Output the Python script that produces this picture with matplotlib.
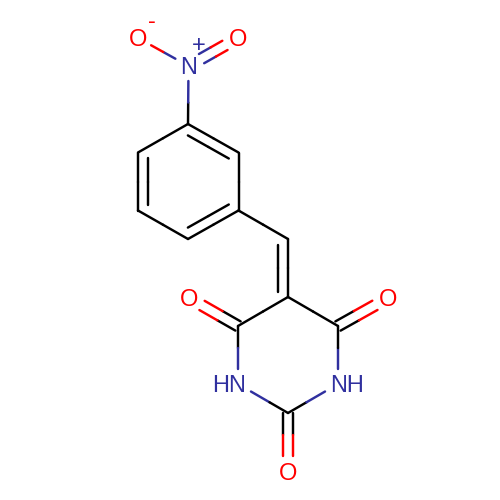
import matplotlib
matplotlib.use("Agg")
import matplotlib.pyplot as plt
import numpy as np

# Atom table (pixel-like drawing units)
atom_names = ["C1", "C2", "C3", "C4", "C5", "C6", "N7", "O8", "O9", "C10", "C11",
              "C12", "N13", "C14", "N15", "C16", "O17", "O18", "O19"]
atom_x = [188, 238.5, 238.5, 188, 138, 138, 188.5, 138, 238, 288, 288,
          238, 238, 288, 338, 338, 189, 288, 388]
atom_y = [124, 152.5, 210.5, 239, 210.5, 152.5, 66, 38, 38, 239, 297,
          326, 384, 413, 384, 326, 298, 471, 298]
atom_element = ["C", "C", "C", "C", "C", "C", "N", "O", "O", "C", "C",
                "C", "N", "C", "N", "C", "O", "O", "O"]
atom_text = {6: "N", 7: "O", 8: "O", 12: "HN", 14: "NH", 16: "O", 17: "O", 18: "O"}
atom_charge = {6: "+", 7: "-"}

single_bonds = [(1, 2), (3, 4), (5, 0), (0, 6), (6, 7), (2, 9), (10, 11), (11, 12),
                (12, 13), (13, 14), (14, 15), (15, 10)]
ring_double_bonds = [(0, 1, 4), (2, 3, 5), (4, 5, 1), (9, 10, 2)]
symmetric_double_bonds = [(6, 8), (11, 16), (13, 17), (15, 18)]

COLORS = {"C": "#000000", "N": "#30309F", "O": "#FF0000"}
LW = 1.75
TRIM = 15.0
SIDE_OFFSET = 10.0
SIDE_SHORTEN = 5.5
SYM_OFFSET = 5.3

xy = np.column_stack([atom_x, atom_y]).astype(float)

fig = plt.figure(figsize=(5, 5), dpi=100)
ax = fig.add_axes([0, 0, 1, 1])
ax.set_xlim(0, 500)
ax.set_ylim(500, 0)
ax.axis("off")


def trimmed(a, b):
    p, q = xy[a].copy(), xy[b].copy()
    u = (q - p) / np.linalg.norm(q - p)
    if a in atom_text:
        p = p + u * TRIM
    if b in atom_text:
        q = q - u * TRIM
    return p, q


def draw_split(p, q, a, b):
    m = (p + q) / 2
    for s, e, idx in ((p, m, a), (m, q, b)):
        ax.plot([s[0], e[0]], [s[1], e[1]], color=COLORS[atom_element[idx]],
                lw=LW, solid_capstyle="round", zorder=2)


for a, b in single_bonds:
    p, q = trimmed(a, b)
    draw_split(p, q, a, b)

for a, b, ref in ring_double_bonds:
    p, q = trimmed(a, b)
    draw_split(p, q, a, b)
    u = (q - p) / np.linalg.norm(q - p)
    n = np.array([-u[1], u[0]])
    if np.dot(xy[ref] - p, n) < 0:
        n = -n
    draw_split(p + n * SIDE_OFFSET + u * SIDE_SHORTEN,
               q + n * SIDE_OFFSET - u * SIDE_SHORTEN, a, b)

for a, b in symmetric_double_bonds:
    p, q = trimmed(a, b)
    u = (q - p) / np.linalg.norm(q - p)
    n = np.array([-u[1], u[0]])
    draw_split(p + n * SYM_OFFSET, q + n * SYM_OFFSET, a, b)
    draw_split(p - n * SYM_OFFSET, q - n * SYM_OFFSET, a, b)

FONT = dict(family="Liberation Sans", fontsize=17, va="baseline", zorder=3)
for i, label in atom_text.items():
    color = COLORS[atom_element[i]]
    x, y = xy[i]
    if label == "HN":
        ax.text(x + 8, y + 8.5, label, ha="right", color=color, **FONT)
    elif label == "NH":
        ax.text(x - 8, y + 8.5, label, ha="left", color=color, **FONT)
    else:
        ax.text(x, y + 8.5, label, ha="center", color=color, **FONT)

ax.text(xy[6][0] + 10, xy[6][1] - 14, atom_charge[6], ha="center", color=COLORS["N"], **FONT)
ax.text(xy[7][0] + 14, xy[7][1] - 10, atom_charge[7], ha="center", color=COLORS["O"], **FONT)

fig.savefig("out.png", dpi=100, facecolor="white")
